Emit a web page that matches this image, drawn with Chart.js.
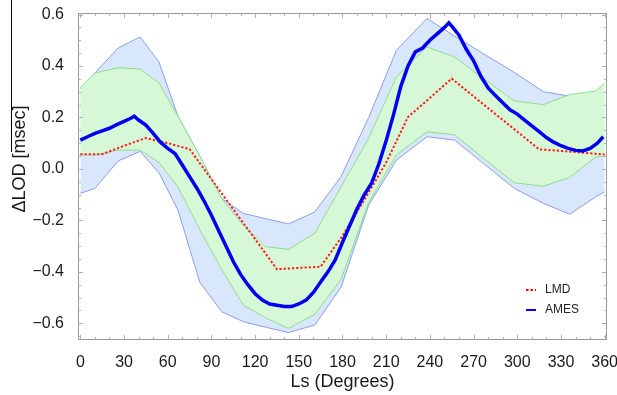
<!DOCTYPE html>
<html>
<head>
<meta charset="utf-8">
<script src="https://cdn.jsdelivr.net/npm/chart.js@4/dist/chart.umd.min.js"></script>
<style>
  body { margin: 0; background: #fff; }
  canvas { display: block; }
</style>
</head>
<body>
<canvas id="lodChart" width="617" height="395"></canvas>
<script>
// Tick labels
const xTicks = [0, 30, 60, 90, 120, 150, 180, 210, 240, 270, 300, 330, 360];
const yTicks = [-0.6, -0.4, -0.2, 0.0, 0.2, 0.4, 0.6];

// Model spread bands (Ls of band vertices)
const bandLs = [0, 10, 26, 41, 54, 67, 82, 97, 112, 127, 143, 161, 179, 198, 217, 238, 257, 277, 298, 318, 336, 354, 360];
const blueUpper = [0.31, 0.373, 0.47, 0.513, 0.416, 0.205, 0.05, -0.115, -0.173, -0.193, -0.214, -0.167, -0.03, 0.2, 0.461, 0.585, 0.516, 0.447, 0.375, 0.3, 0.283, 0.29, 0.3];
const blueLower = [-0.095, -0.076, 0.031, 0.068, -0.015, -0.16, -0.44, -0.555, -0.594, -0.615, -0.636, -0.607, -0.46, -0.14, 0.034, 0.125, 0.112, 0.02, -0.076, -0.134, -0.176, -0.108, -0.089];
const greenUpper = [0.317, 0.373, 0.393, 0.388, 0.334, 0.205, 0.05, -0.115, -0.22, -0.302, -0.313, -0.25, -0.07, 0.12, 0.358, 0.474, 0.435, 0.35, 0.264, 0.25, 0.289, 0.303, 0.334];
const greenLower = [0.055, 0.054, 0.073, 0.073, 0.025, -0.07, -0.235, -0.39, -0.53, -0.578, -0.62, -0.565, -0.43, -0.13, 0.054, 0.144, 0.133, 0.04, -0.054, -0.067, -0.033, 0.047, 0.05];

// LMD
const lmdLs = [0, 15, 30, 45, 60, 75, 90, 105, 120, 135, 150, 165, 180, 195, 210, 225, 240, 255, 270, 285, 300, 315, 330, 345, 360];
const lmd = [0.057, 0.057, 0.09, 0.12, 0.1, 0.077, -0.04, -0.157, -0.273, -0.39, -0.385, -0.38, -0.26, -0.12, 0.025, 0.202, 0.276, 0.351, 0.282, 0.213, 0.145, 0.076, 0.07, 0.063, 0.056];

// AMES
const amesLs = [0, 5, 10, 15, 20, 25, 30, 35, 37, 40, 45, 50, 55, 60, 65, 70, 75, 80, 85, 90, 95, 100,
  105, 110, 115, 120, 125, 130, 135, 140, 145, 150, 155, 160, 165, 170, 175, 180, 185, 190, 195, 200,
  205, 210, 215, 220, 225, 230, 235, 240, 245, 250, 253, 255, 260, 265, 270, 275, 280, 285, 290, 295, 300,
  305, 310, 315, 320, 325, 330, 335, 340, 345, 350, 355, 359];
const ames = [0.112, 0.125, 0.138, 0.148, 0.158, 0.172, 0.185, 0.198, 0.205, 0.19, 0.17, 0.138, 0.104, 0.08, 0.06, 0.015, -0.03, -0.075, -0.125, -0.18, -0.24, -0.3,
  -0.36, -0.41, -0.45, -0.485, -0.51, -0.525, -0.53, -0.535, -0.535, -0.525, -0.51, -0.48, -0.44, -0.4, -0.354, -0.285, -0.22, -0.155, -0.1, -0.055,
  0.02, 0.11, 0.21, 0.32, 0.4, 0.455, 0.47, 0.5, 0.525, 0.55, 0.568, 0.555, 0.52, 0.465, 0.42, 0.36, 0.315, 0.285, 0.257, 0.23, 0.213,
  0.19, 0.167, 0.145, 0.122, 0.104, 0.09, 0.08, 0.072, 0.07, 0.08, 0.1, 0.125];

const FONT = "'Liberation Sans', Arial, Helvetica, sans-serif";

function toPoints(xs, ys) {
  return xs.map((x, i) => ({ x: x, y: ys[i] }));
}

// frame, inward ticks, legend and y title
const framePlugin = {
  id: "frame",
  afterDraw(chart) {
    const ctx = chart.ctx;
    const a = chart.chartArea;
    const xs = chart.scales.x;
    const ys = chart.scales.y;
    ctx.save();
    ctx.strokeStyle = "#9a9a9a";
    ctx.lineWidth = 1;
    ctx.strokeRect(a.left + 0.5, a.top + 0.5, a.right - a.left - 1, a.bottom - a.top - 1);

    ctx.strokeStyle = "#b0b0b0";
    ctx.beginPath();
    for (let v = 0; v <= 360; v += 10) {
      const px = Math.round(xs.getPixelForValue(v)) + 0.5;
      const len = v % 30 === 0 ? 5 : 3;
      ctx.moveTo(px, a.bottom); ctx.lineTo(px, a.bottom - len);
      ctx.moveTo(px, a.top); ctx.lineTo(px, a.top + len);
    }
    for (let k = -13; k <= 12; k++) {
      const v = k * 0.05;
      const py = Math.round(ys.getPixelForValue(v)) + 0.5;
      const len = k % 4 === 0 ? 5 : 3;
      ctx.moveTo(a.left, py); ctx.lineTo(a.left + len, py);
      ctx.moveTo(a.right, py); ctx.lineTo(a.right - len, py);
    }
    ctx.stroke();

    // legend
    ctx.font = "12px " + FONT;
    ctx.fillStyle = "#222";
    ctx.textBaseline = "middle";
    ctx.textAlign = "left";
    ctx.strokeStyle = "#ff0000";
    ctx.lineWidth = 2;
    ctx.setLineDash([2.5, 2]);
    ctx.beginPath();
    ctx.moveTo(526, 290); ctx.lineTo(536, 290);
    ctx.stroke();
    ctx.setLineDash([]);
    ctx.fillText("LMD", 545, 290);
    ctx.strokeStyle = "#0000ff";
    ctx.beginPath();
    ctx.moveTo(526, 310); ctx.lineTo(536, 310);
    ctx.stroke();
    ctx.fillText("AMES", 545, 310);

    // y title
    ctx.translate(20, 159);
    ctx.rotate(-Math.PI / 2);
    ctx.font = "18px " + FONT;
    ctx.textAlign = "center";
    ctx.fillStyle = "#1a1a1a";
    ctx.fillText("\u0394LOD [msec]", 0, 0);
    ctx.restore();

    // edge line on the left of the picture
    ctx.save();
    ctx.strokeStyle = "#000";
    ctx.lineWidth = 1;
    ctx.beginPath();
    ctx.moveTo(11.5, 0); ctx.lineTo(11.5, 152);
    ctx.stroke();
    ctx.restore();
  },
};

const ctx = document.getElementById("lodChart").getContext("2d");
new Chart(ctx, {
  type: "line",
  data: {
    datasets: [
      {
        label: "AMES",
        data: toPoints(amesLs, ames),
        borderColor: "#0000f0",
        borderWidth: 3.5,
        pointRadius: 0,
        fill: false,
        order: 0,
      },
      {
        label: "LMD",
        data: toPoints(lmdLs, lmd),
        borderColor: "#ff1a1a",
        borderWidth: 2,
        borderDash: [2.2, 2],
        pointRadius: 0,
        fill: false,
        order: 1,
      },
      {
        label: "green upper",
        data: toPoints(bandLs, greenUpper),
        borderColor: "#8fdd8f",
        borderWidth: 1,
        pointRadius: 0,
        fill: false,
        order: 2,
      },
      {
        label: "green lower",
        data: toPoints(bandLs, greenLower),
        borderColor: "#8fdd8f",
        borderWidth: 1,
        pointRadius: 0,
        fill: "-1",
        backgroundColor: "#d7f8d7",
        order: 2,
      },
      {
        label: "blue upper",
        data: toPoints(bandLs, blueUpper),
        borderColor: "#8d9de8",
        borderWidth: 1,
        pointRadius: 0,
        fill: false,
        order: 3,
      },
      {
        label: "blue lower",
        data: toPoints(bandLs, blueLower),
        borderColor: "#8d9de8",
        borderWidth: 1,
        pointRadius: 0,
        fill: "-1",
        backgroundColor: "#d8e7fb",
        order: 3,
      },
    ],
  },
  options: {
    responsive: false,
    animation: false,
    events: [],
    layout: { padding: { left: 0, right: 10, top: 13, bottom: 0 } },
    plugins: {
      legend: { display: false },
      tooltip: { enabled: false },
    },
    scales: {
      x: {
        type: "linear",
        min: -1.6,
        max: 361.6,
        afterBuildTicks: (scale) => {
          scale.ticks = xTicks.map((v) => ({ value: v }));
        },
        afterFit: (scale) => {
          scale.height = 55;
          scale.paddingLeft = 0;
          scale.paddingRight = 0;
        },
        grid: { display: false },
        border: { display: false },
        ticks: {
          padding: 5,
          color: "#1a1a1a",
          font: { size: 16, family: FONT },
          maxRotation: 0,
          autoSkip: false,
        },
        title: {
          display: true,
          text: "Ls (Degrees)",
          color: "#1a1a1a",
          font: { size: 18, family: FONT },
          padding: { top: 0, bottom: 2.5 },
        },
      },
      y: {
        min: -0.665,
        max: 0.606,
        afterBuildTicks: (scale) => {
          scale.ticks = yTicks.map((v) => ({ value: v }));
        },
        afterFit: (scale) => {
          scale.width = 78;
          scale.paddingTop = 0;
          scale.paddingBottom = 0;
        },
        grid: { display: false },
        border: { display: false },
        ticks: {
          padding: 6,
          color: "#1a1a1a",
          font: { size: 16, family: FONT },
          callback: (v) => (v < -1e-9 ? "\u2212" + Math.abs(v).toFixed(1) : Math.abs(v).toFixed(1)),
        },
      },
    },
  },
  plugins: [framePlugin],
});
</script>
</body>
</html>
